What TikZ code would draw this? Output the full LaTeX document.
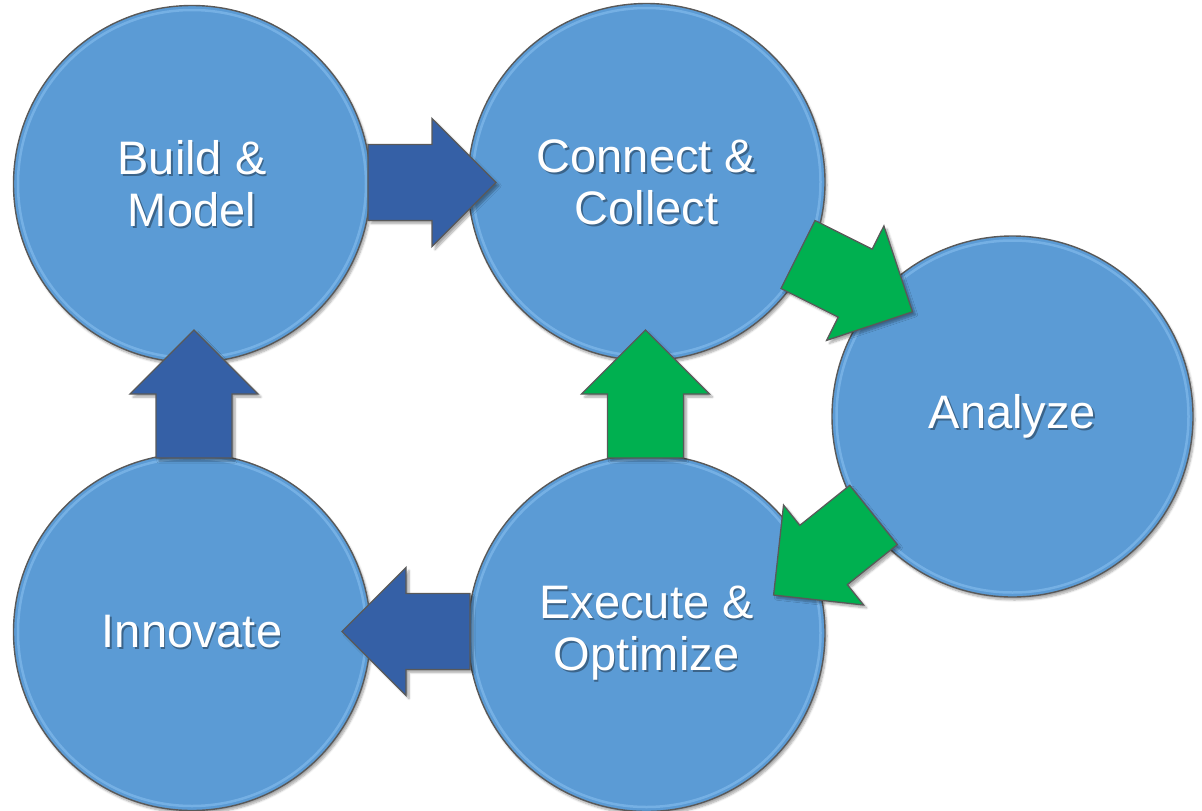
\documentclass[tikz,border=0pt]{standalone}
\usepackage{fontspec}
\setmainfont{Liberation Sans}
\usetikzlibrary{shadows.blur}
\definecolor{circblue}{HTML}{5B9BD5}
\definecolor{rimblue}{HTML}{8CC2F2}
\definecolor{arrblue}{HTML}{3560A6}
\definecolor{arrgreen}{HTML}{00B050}
\definecolor{edgegray}{HTML}{595959}
\tikzset{
  circ/.style={circle, fill=circblue, draw=edgegray, line width=1.4pt, minimum size=357pt, inner sep=0pt,
    blur shadow={shadow xshift=2pt, shadow yshift=-3pt, shadow blur steps=6, shadow opacity=35}},
  rim/.style={draw=rimblue, line width=2.5pt, opacity=0.55},
  txt/.style={text=white, align=center, font=\fontsize{47}{52}\selectfont, inner sep=0pt},
  txtshadow/.style={txt, text=black, text opacity=0.35},
  arrowline/.style={draw=edgegray, line width=1.3pt, line join=miter,
    blur shadow={shadow xshift=3pt, shadow yshift=-3pt, shadow blur steps=6, shadow opacity=35}},
  pics/barrow/.style={code={
    \path[arrowline, fill=#1] (0,-38) -- (64,-38) -- (64,-64) -- (128,0) -- (64,64) -- (64,38) -- (0,38) -- cycle;}}
}
\begin{document}
\begin{tikzpicture}[x=1pt, y=-1pt]
\useasboundingbox (0,0) rectangle (1202,811);
% circles
\node[circ] (build) at (192,184) {};
\node[circ] (connect) at (646.5,182) {};
\node[circ, minimum size=361pt] (analyze) at (1012.5,416.5) {};
\node[circ] (innovate) at (192,632) {};
\node[circ] (execute) at (646.5,633) {};
% rims
\foreach \c/\r in {build/174, connect/174, innovate/174, execute/174, analyze/176}{
  \draw[rim] (\c.center) circle[radius=\r];
}
% texts
\node[txtshadow] at ([shift={(1.5,2)}]build.center) {Build \&\\Model};
\node[txt] (tbuild) at (build.center) {Build \&\\Model};
\node[txtshadow] at ([shift={(1.5,2)}]connect.center) {Connect \&\\Collect};
\node[txt] (tconnect) at (connect.center) {Connect \&\\Collect};
\node[txtshadow] at ([shift={(1.5,2)}]analyze.center) {Analyze};
\node[txt] (tanalyze) at (analyze.center) {Analyze};
\node[txtshadow] at ([shift={(1.5,2)}]innovate.center) {Innovate};
\node[txt] (tinnovate) at (innovate.center) {Innovate};
\node[txtshadow] at ([shift={(1.5,2)}]execute.center) {Execute \&\\Optimize};
\node[txt] (texecute) at (execute.center) {Execute \&\\Optimize};
% arrows
\coordinate (a1) at (368,182.5);
\coordinate (a2) at (194,458);
\coordinate (a3) at (470,631.5);
\coordinate (a4) at (645.5,458);
\coordinate (a5) at (798,254.5);
\coordinate (a6) at (873.5,515);
\pic[rotate=0] at (a1) {barrow=arrblue};
\pic[rotate=90] at (a2) {barrow=arrblue};
\pic[rotate=180] at (a3) {barrow=arrblue};
\pic[rotate=90] at (a4) {barrow=arrgreen};
\pic[rotate=-26.6] at (a5) {barrow=arrgreen};
\pic[rotate=-141.3] at (a6) {barrow=arrgreen};
\end{tikzpicture}
\end{document}
